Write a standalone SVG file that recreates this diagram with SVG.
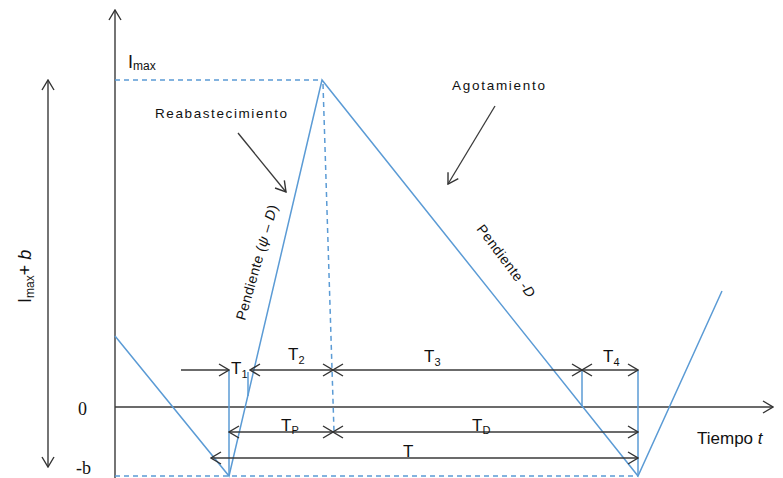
<svg xmlns="http://www.w3.org/2000/svg" width="783" height="478" viewBox="0 0 783 478">
<defs>
<marker id="ah" markerUnits="userSpaceOnUse" markerWidth="14" markerHeight="14" viewBox="0 0 14 14" refX="13" refY="7" orient="auto-start-reverse">
<path d="M3,1 L13,7 L3,13" fill="none" stroke="#333" stroke-width="1.4"/>
</marker>
</defs>
<style>
.ax{stroke:#3a3a3a;stroke-width:1.4;fill:none}
.bl{stroke:#5b9bd5;stroke-width:1.5;fill:none}
.bd{stroke:#5b9bd5;stroke-width:1.5;fill:none;stroke-dasharray:5,4}
.dim{stroke:#3a3a3a;stroke-width:1.3;fill:none}
.t{font-family:"Liberation Sans",Arial,sans-serif;fill:#111}
.s{font-family:"Liberation Serif","Times New Roman",serif;fill:#111}
</style>
<rect width="783" height="478" fill="#fff"/>
<g id="connectors">
<line class="ax" x1="115" y1="478" x2="115" y2="10" marker-end="url(#ah)"/>
<line class="ax" x1="115" y1="407" x2="773" y2="407" marker-end="url(#ah)"/>
<line class="ax" x1="48" y1="80" x2="48" y2="467" marker-start="url(#ah)" marker-end="url(#ah)"/>
<line class="bd" x1="115" y1="80" x2="322" y2="80"/>
<line class="bd" x1="115" y1="476" x2="638" y2="476"/>
<line class="bd" x1="323" y1="84" x2="334" y2="432"/>
<polyline class="bl" points="115,336 229,476 322,80 638,476 722,291"/>
<line class="bl" x1="229" y1="476" x2="229" y2="370"/>
<line class="bl" x1="248" y1="372" x2="248" y2="396"/>
<line class="bl" x1="582" y1="370" x2="582" y2="407"/>
<line class="bl" x1="638" y1="370" x2="638" y2="476"/>
<line class="dim" x1="181" y1="370" x2="229" y2="370" marker-end="url(#ah)"/>
<line class="dim" x1="250" y1="370" x2="333" y2="370" marker-start="url(#ah)" marker-end="url(#ah)"/>
<line class="dim" x1="333" y1="370" x2="582" y2="370" marker-start="url(#ah)" marker-end="url(#ah)"/>
<line class="dim" x1="582" y1="370" x2="638" y2="370" marker-start="url(#ah)" marker-end="url(#ah)"/>
<line class="dim" x1="229" y1="432" x2="333" y2="432" marker-start="url(#ah)" marker-end="url(#ah)"/>
<line class="dim" x1="333" y1="432" x2="638" y2="432" marker-start="url(#ah)" marker-end="url(#ah)"/>
<line class="dim" x1="211" y1="458" x2="638" y2="458" marker-start="url(#ah)" marker-end="url(#ah)"/>
<line class="dim" x1="238" y1="133" x2="286" y2="192" marker-end="url(#ah)"/>
<line class="dim" x1="495" y1="106" x2="448" y2="184" marker-end="url(#ah)"/>
</g>
<g id="labels">
<text class="t" x="128" y="68" font-size="18">I<tspan font-size="12" dy="2">max</tspan></text>
<text class="t" x="155" y="118" font-size="13.5" textLength="132">Reabastecimiento</text>
<text class="t" x="452" y="90" font-size="13.5" textLength="93">Agotamiento</text>
<text class="t" font-size="14" textLength="119" transform="translate(245,321) rotate(-74)">Pendiente (<tspan font-style="italic">ψ</tspan> – <tspan font-style="italic">D</tspan>)</text>
<text class="t" font-size="14" textLength="87" transform="translate(476,229) rotate(53)">Pendiente -<tspan font-style="italic">D</tspan></text>
<text class="t" font-size="18" transform="translate(31,303) rotate(-90)">I<tspan font-size="12" dy="3">max</tspan><tspan dy="-3">+ </tspan><tspan font-style="italic">b</tspan></text>
<text class="s" x="78" y="415" font-size="18">0</text>
<text class="s" x="76" y="474" font-size="18">-b</text>
<text class="t" x="697" y="444" font-size="17">Tiempo <tspan font-style="italic">t</tspan></text>
<text class="t" x="231" y="374" font-size="17">T<tspan font-size="11" dy="4">1</tspan></text>
<text class="t" x="288" y="360" font-size="17">T<tspan font-size="11" dy="4">2</tspan></text>
<text class="t" x="424" y="362" font-size="17">T<tspan font-size="11" dy="4">3</tspan></text>
<text class="t" x="603" y="362" font-size="17">T<tspan font-size="11" dy="4">4</tspan></text>
<text class="t" x="281" y="431" font-size="17">T<tspan font-size="11" dy="3">P</tspan></text>
<text class="t" x="472" y="431" font-size="17">T<tspan font-size="11" dy="3">D</tspan></text>
<text class="t" x="403" y="457" font-size="17">T</text>
</g>
</svg>
